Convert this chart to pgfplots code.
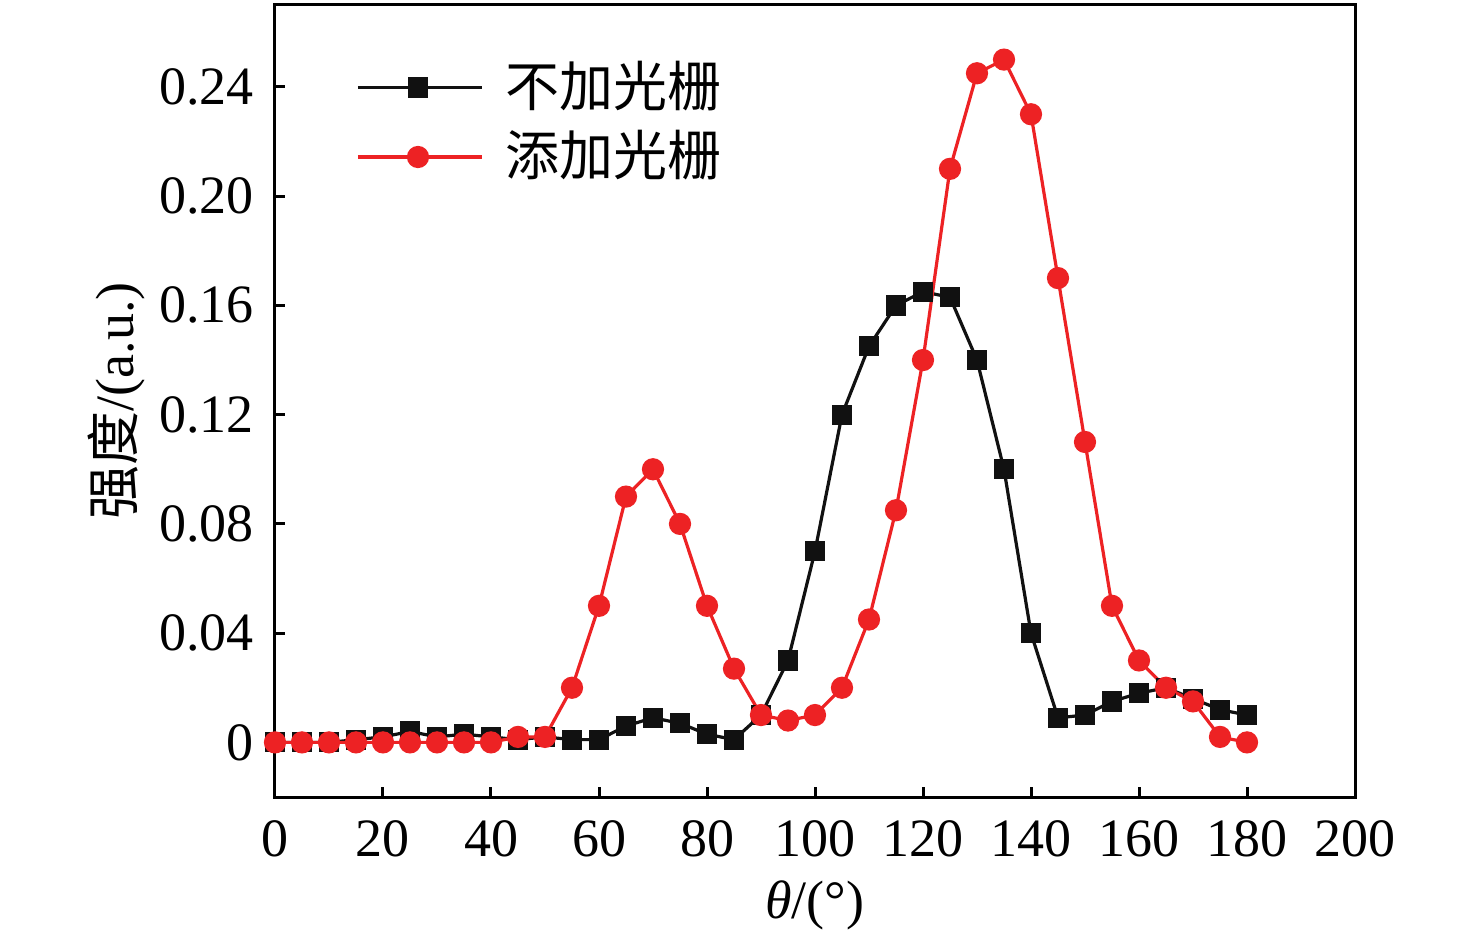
\documentclass[border=0pt]{standalone}
\usepackage{pgfplots}
\pgfplotsset{compat=1.18}
\usepackage{fontspec}
\setmainfont{Liberation Serif}
\newfontfamily\cjk{Noto Sans CJK SC}
\usetikzlibrary{calc}
\definecolor{myred}{RGB}{237,34,36}
\definecolor{myblack}{RGB}{17,17,17}
\begin{document}
\fontsize{27bp}{32bp}\selectfont
\begin{tikzpicture}
\begin{axis}[
  scale only axis,
  width=540bp, height=396bp,
  xmin=0, xmax=200, ymin=-0.02, ymax=0.27,
  xtick={0,20,...,200},
  ytick={0,0.04,0.08,0.12,0.16,0.20,0.24},
  yticklabels={0,0.04,0.08,0.12,0.16,0.20,0.24},
  /pgf/number format/assume math mode=true,
  tick align=inside,
  xtick pos=bottom, ytick pos=left,
  major tick length=5bp,
  tick style={line width=1.5bp, black},
  axis line style={line width=1.5bp},
  tick label style={font=\fontsize{27bp}{32bp}\selectfont},
  xticklabel style={yshift=-2.5bp},
  yticklabel style={xshift=-1.5bp},
  xlabel={\textit{θ}/(°)},
  ylabel={{\cjk 强度}/(a.u.)},
  label style={font=\fontsize{27bp}{32bp}\selectfont},
  xlabel style={yshift=6bp},
  ylabel style={yshift=-11bp},
  legend style={draw=none, fill=none, at={(rel axis cs:0.075,0.935)}, anchor=north west,
    font=\fontsize{27bp}{32bp}\selectfont\cjk, row sep=4bp, inner sep=0pt,
    /tikz/every odd column/.append style={column sep=9bp}},
  legend cell align=left,
  legend image code/.code={
    \draw[#1, line width=1.6bp, mark repeat=2, mark phase=2] plot coordinates {(0bp,0bp) (30bp,0bp) (62bp,0bp)};
  },
]
\coordinate (SW) at (rel axis cs:0,0);
\coordinate (NE) at (rel axis cs:1,1);
\addplot[myblack, line width=1.6bp, mark=square*, mark size=4.25bp, mark options={solid, fill=myblack}] coordinates {
(0,0) (5,0) (10,0) (15,0.001) (20,0.002) (25,0.004) (30,0.002) (35,0.003) (40,0.002) (45,0.001)
(50,0.002) (55,0.001) (60,0.001) (65,0.006) (70,0.009) (75,0.007) (80,0.003) (85,0.001) (90,0.010)
(95,0.030) (100,0.070) (105,0.120) (110,0.145) (115,0.160) (120,0.165) (125,0.163) (130,0.140)
(135,0.100) (140,0.040) (145,0.009) (150,0.010) (155,0.015) (160,0.018) (165,0.020) (170,0.016)
(175,0.012) (180,0.010)
};
\addlegendentry{不加光栅}
\addplot[myred, line width=1.6bp, mark=*, mark size=4.75bp, mark options={solid, fill=myred, draw=myred}] coordinates {
(0,0) (5,0) (10,0) (15,0) (20,0) (25,0) (30,0) (35,0) (40,0) (45,0.002)
(50,0.002) (55,0.020) (60,0.050) (65,0.090) (70,0.100) (75,0.080) (80,0.050) (85,0.027) (90,0.010)
(95,0.008) (100,0.010) (105,0.020) (110,0.045) (115,0.085) (120,0.140) (125,0.210) (130,0.245)
(135,0.250) (140,0.230) (145,0.170) (150,0.110) (155,0.050) (160,0.030) (165,0.020) (170,0.015)
(175,0.002) (180,0)
};
\addlegendentry{添加光栅}
\end{axis}
\pgfresetboundingbox
\path ($(SW)+(-137.5bp,-72.5bp)$) rectangle ($(NE)+(60.5bp,2.5bp)$);
\end{tikzpicture}
\end{document}
